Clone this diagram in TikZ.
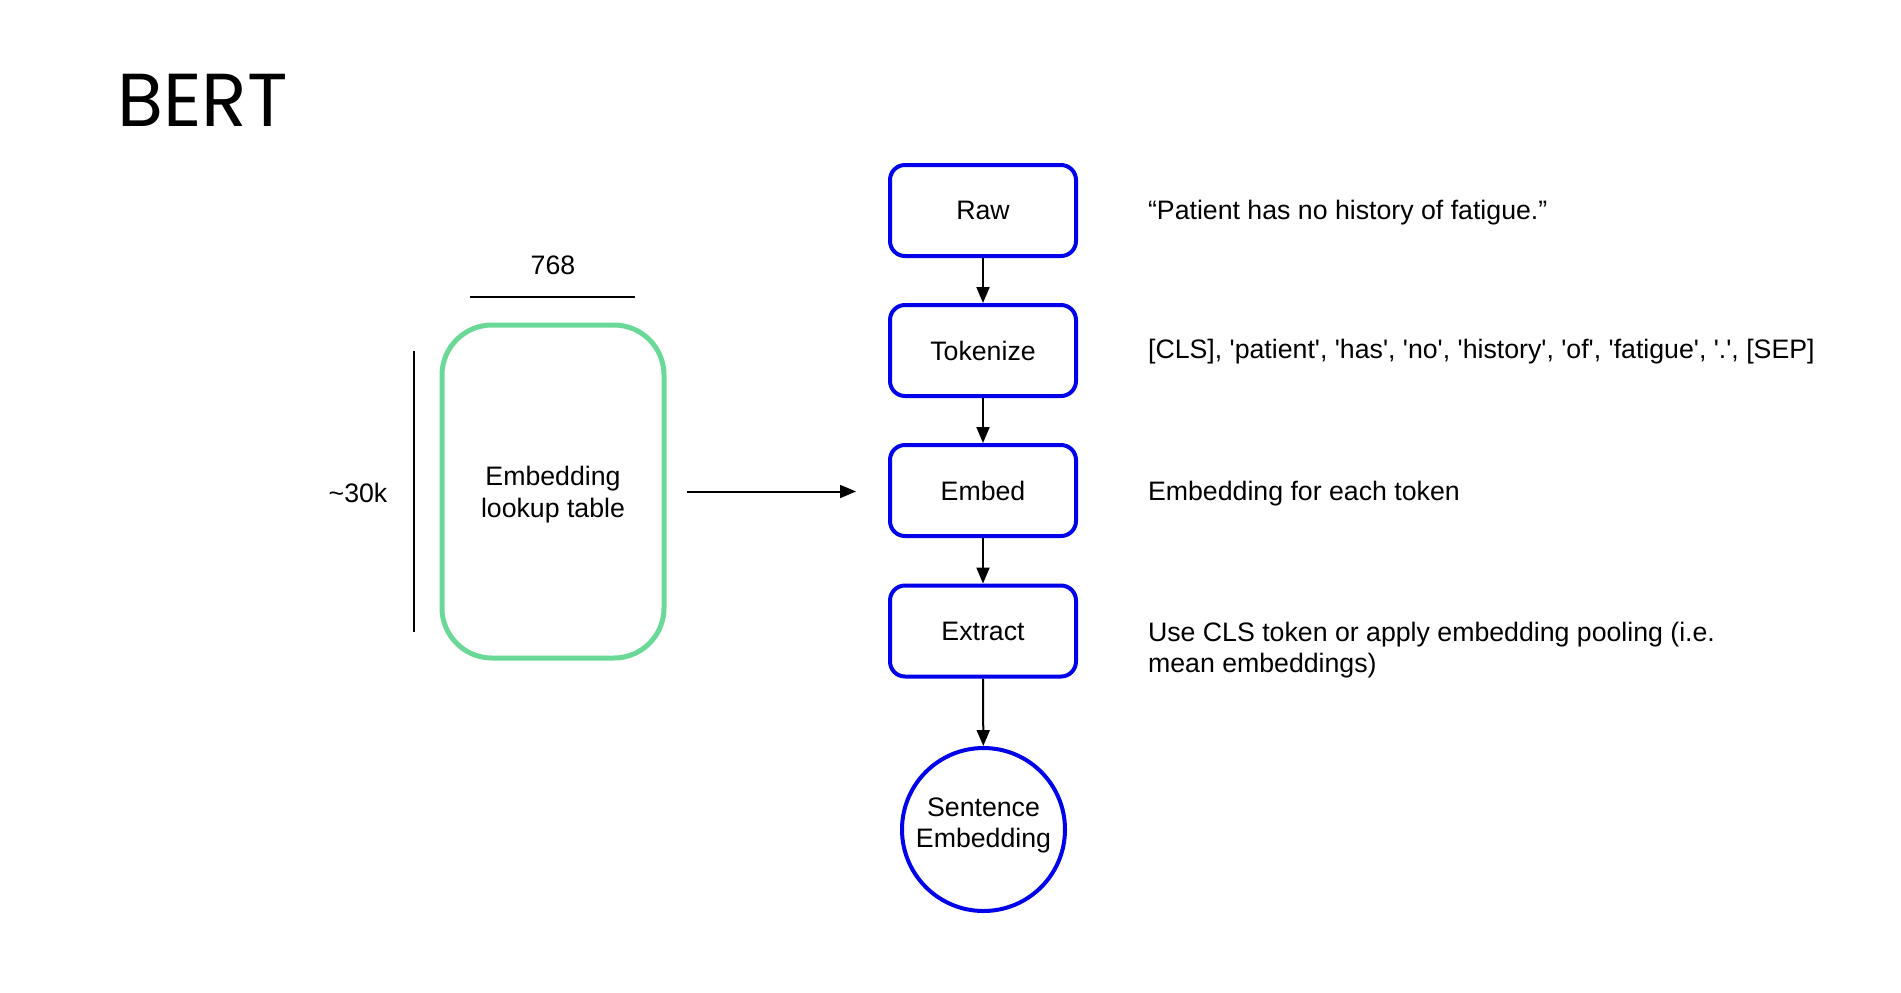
\documentclass[tikz,border=0pt]{standalone}
\usepackage{fontspec}
\setmainfont{Liberation Sans}
\newfontfamily\titlefont{Poppins}
\usetikzlibrary{arrows.meta}
\definecolor{bblue}{RGB}{0,0,235}
\definecolor{ggreen}{RGB}{106,217,152}
\newcommand{\tk}[1]{\textquotesingle#1\textquotesingle}

\tikzset{
    stage/.style={draw=bblue, line width=2pt, rounded corners=7.5pt,
        minimum width=93pt, minimum height=45.5pt, inner sep=0pt},
    result/.style={draw=bblue, line width=2pt, circle, minimum size=81.5pt,
        inner sep=0pt},
    lookupbox/.style={draw=ggreen, line width=2.5pt, rounded corners=25pt,
        minimum width=111pt, minimum height=166.5pt},
    note/.style={anchor=west, align=left},
}

\begin{document}
\begin{tikzpicture}[x=0.5pt, y=-0.5pt, >={Triangle[length=8pt,width=6.5pt]},
    font=\fontsize{13.35}{15.7}\selectfont]
    % \draw[help lines, gray] (0, 0) grid[step=100] (1901, 992);
    \useasboundingbox (0, 0) rectangle (1901, 992);

    \node[anchor=base west, inner sep=0pt, font=\titlefont\fontsize{37.5}{40}\selectfont]
        (title) at (117, 126) {BERT};

    % lookup table and its sizes
    \node[lookupbox] (lookup) at (553, 491.5) {};
    \node[align=center] (lookuptxt) at (553, 494.5) {Embedding\\lookup table};
    \node (width) at (553, 265) {768};
    \node (height) at (358, 493) {\textasciitilde30k};
    \draw[line width=0.8pt] (470, 297) -- (635, 297);
    \draw[line width=0.8pt] (414, 351) -- (414, 632);

    % pipeline
    \node[stage] (raw) at (983, 210.5) {Raw};
    \node[stage] (tokenize) at (983, 350.5) {Tokenize};
    \node[stage] (embed) at (983, 490.5) {Embed};
    \node[stage] (extract) at (983, 631) {Extract};
    \node[result] (sentence) at (983.5, 829.5) {};
    \node[align=center] (sentencetxt) at (983.5, 825.5) {Sentence\\Embedding};

    \draw[->, line width=1pt] (raw) -- (tokenize);
    \draw[->, line width=1pt] (tokenize) -- (embed);
    \draw[->, line width=1pt] (embed) -- (extract);
    \draw[->, line width=1pt] (extract) -- (sentence);
    \draw[->, line width=1pt] ([xshift=10pt]lookup.east) -- ([xshift=-16pt]lookup.east -| embed.west);

    % notes
    \node[note] (rawnote) at (1141, 212.5) {“Patient has no history of fatigue.”};
    \node[note] (toknote) at (1141, 351.5) {[CLS], \tk{patient}, \tk{has}, \tk{no}, \tk{history}, \tk{of}, \tk{fatigue}, \tk{.}, [SEP]};
    \node[note] (embnote) at (1141, 493.5) {Embedding for each token};
    \node[note] (extnote) at (1141, 650) {Use CLS token or apply embedding pooling (i.e.\\mean embeddings)};
\end{tikzpicture}
\end{document}
